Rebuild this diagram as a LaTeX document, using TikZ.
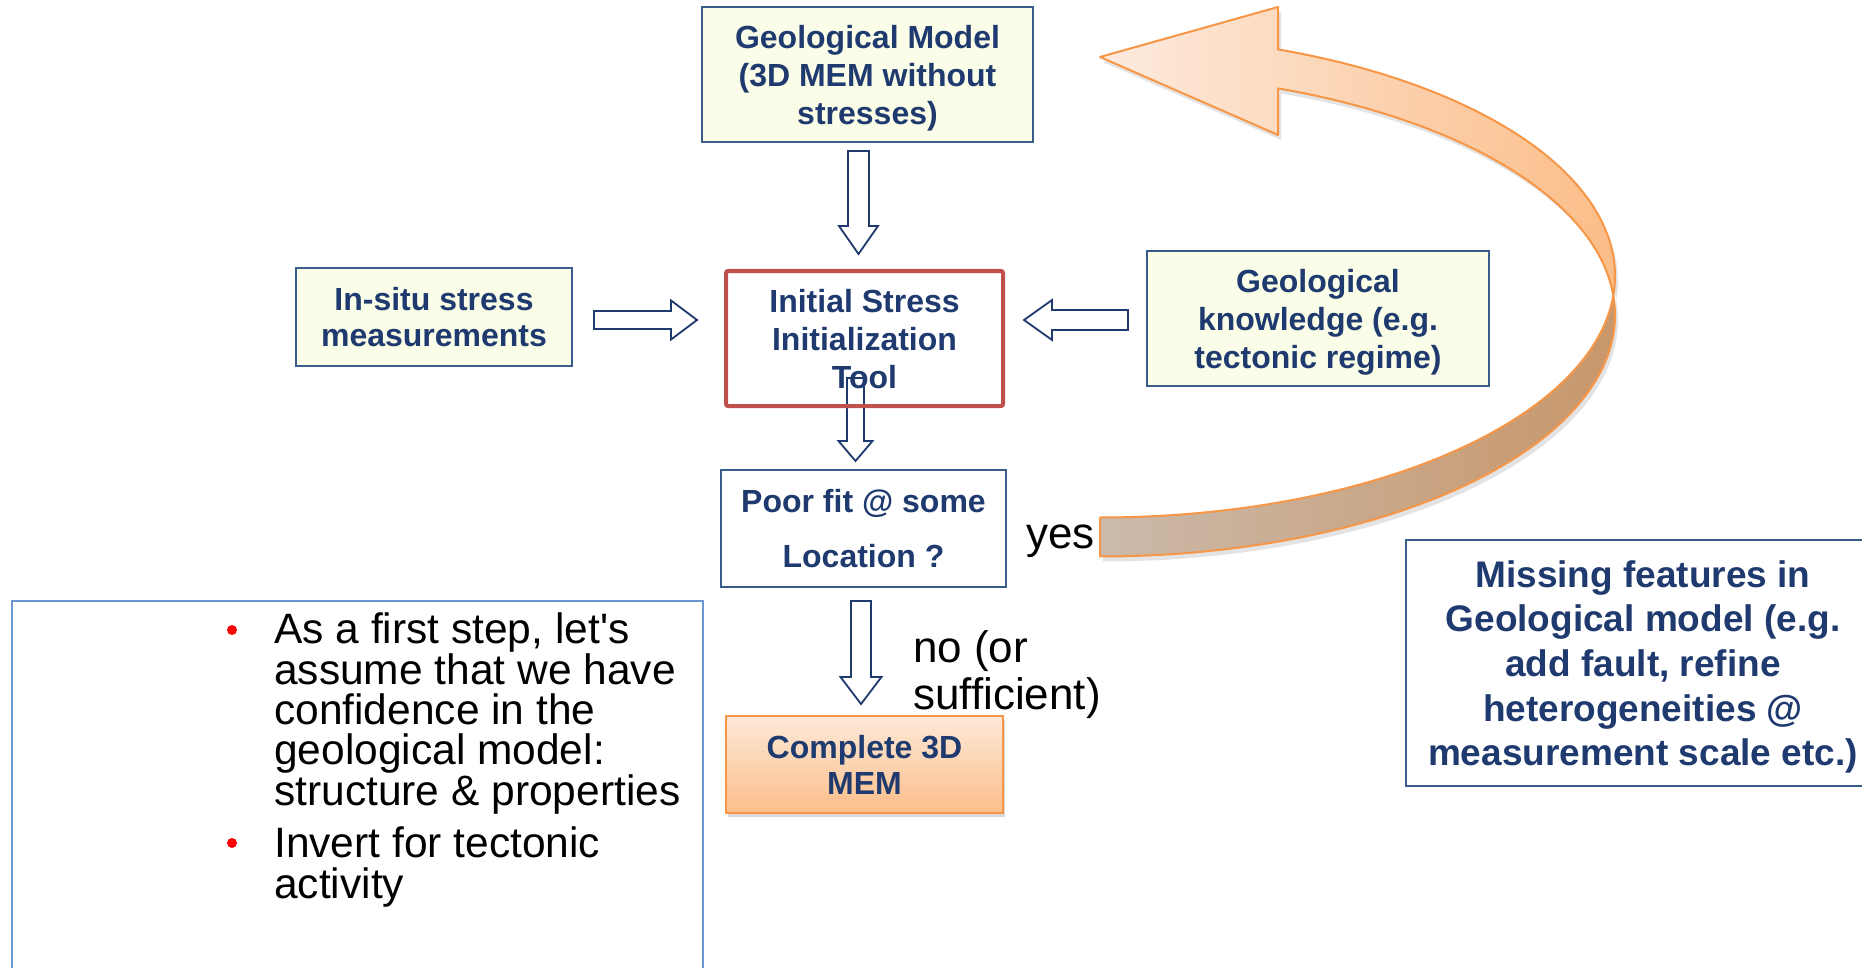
\documentclass[tikz,border=0pt]{standalone}
\usepackage{fontspec}
\setmainfont{Liberation Sans}
\newfontfamily\aposfont{Liberation Sans}
\usetikzlibrary{shadows,calc}
\definecolor{navy}{HTML}{1F3A6E}
\definecolor{boxline}{HTML}{385D8A}
\definecolor{boxfill}{HTML}{FAFDE8}
\definecolor{istred}{HTML}{C0504D}
\definecolor{noteline}{HTML}{6C96CE}
\definecolor{orangeline}{HTML}{F79646}
\definecolor{upL}{HTML}{FDEBDF}
\definecolor{upR}{HTML}{FBBD88}
\definecolor{loL}{HTML}{CBBAAB}
\definecolor{loR}{HTML}{C8976A}
\definecolor{cTop}{HTML}{FDE9D8}
\definecolor{cBot}{HTML}{FBBE8A}
\definecolor{bulletred}{HTML}{FF0000}
\newcommand\varrow[6]{% x ytop yhead ytip bodyhalf headhalf
  \draw[blockarrow] ({#1-#5},#2) -- ({#1+#5},#2) -- ({#1+#5},#3) -- ({#1+#6},#3) -- (#1,#4) -- ({#1-#6},#3) -- ({#1-#5},#3) -- cycle;}
\newcommand\harrow[6]{% y xtail xhead xtip bodyhalf headhalf
  \draw[blockarrow] (#2,{#1-#5}) -- (#3,{#1-#5}) -- (#3,{#1-#6}) -- (#4,#1) -- (#3,{#1+#6}) -- (#3,{#1+#5}) -- (#2,{#1+#5}) -- cycle;}
% ellipse parameters of the curved feedback arrow
\def\ecx{1100}\def\erx{515}\def\ery{241.5}
\def\eca{276}\def\ecb{315}
\begin{document}
\begin{tikzpicture}[x=1pt,y=-1pt,
  box/.style={draw=boxline, line width=2pt, fill=boxfill, inner sep=0pt, text=navy, align=center,
              text depth=0pt, font=\bfseries\fontsize{32}{38}\selectfont},
  blockarrow/.style={draw=navy, line width=1.8pt, fill=white, line join=miter},
  curvearrow/.style={draw=orangeline, line width=2pt, line join=round,
              drop shadow={opacity=0.22, shadow xshift=3pt, shadow yshift=-5pt}},
  plain/.style={inner sep=0pt, text=black, font=\fontsize{44}{47}\selectfont},
  bullet/.style={circle, fill=bulletred, inner sep=0pt, minimum size=10pt},
  bullettext/.style={inner sep=0pt, anchor=base west, align=left, text=black, font=\fontsize{42.5}{40.3}\selectfont}
  ]
\useasboundingbox (0,0) rectangle (1862,968);
\clip (0,0) rectangle (1862,968);
\fill[white] (0,0) rectangle (1862,968);

% top model box
\node[box, minimum width=331pt, minimum height=135pt] (gm) at (867.5,74.5) {Geological Model\\(3D MEM without\\stresses)};

% arrows into / out of the tool
\varrow{858.5}{151}{226}{254}{10.5}{19.5}
\varrow{855.5}{378}{441}{461}{8.5}{17}
\node[box, draw=istred, line width=4pt, fill=none, rounded corners=2pt, minimum width=277pt, minimum height=135pt] (ist) at (864.5,338.5) {Initial Stress\\Initialization\\Tool};

\node[box, minimum width=276pt, minimum height=98pt, font=\bfseries\fontsize{32}{36.5}\selectfont] (insitu) at (434,317) {In-situ stress\\measurements};
\harrow{320}{594}{671}{697}{9}{19.5}

\node[box, minimum width=342pt, minimum height=135pt] (gk) at (1318,318.5) {Geological\\knowledge (e.g.\\tectonic regime)};
\harrow{320}{1128}{1052}{1024}{10}{20}

\node[box, fill=white, font=\bfseries\fontsize{32}{55}\selectfont, minimum width=285pt, minimum height=117pt] (poor) at (863.5,528.5) {Poor fit @ some\\Location ?};

\varrow{861}{601}{677}{704}{10}{20.5}

\node[box, draw=orangeline, top color=cTop, bottom color=cBot,
      drop shadow={opacity=0.3, shadow xshift=2pt, shadow yshift=-4pt},
      font=\bfseries\fontsize{32}{36}\selectfont, minimum width=277pt, minimum height=97pt] (mem) at (864.5,764.5) {Complete 3D\\MEM};

\node[plain, anchor=base west, align=left] (nolbl) at (913,709) {no (or\\sufficient)};
\node[plain, anchor=base west] (yeslbl) at (1026,548) {yes};

% missing features box
\node[box, fill=white, font=\bfseries\fontsize{37}{44.6}\selectfont, minimum width=474pt, minimum height=246pt] (missing) at (1643,663) {Missing features in\\Geological model (e.g.\\add fault, refine\\heterogeneities @\\measurement scale etc.)};

% notes box
\node[draw=noteline, line width=2.5pt, fill=white, inner sep=0pt, minimum width=691pt, minimum height=420pt] (notes) at (357.5,811) {};
\node[bullet] (d1) at (232,630) {};
\node[bullet] (d2) at (232,843) {};
\node[bullettext] (b1) at (274,805) {As a first step, let{\aposfont'}s\\assume that we have\\confidence in the\\geological model:\\structure \& properties};
\node[bullettext] (b2) at (274,898) {Invert for tectonic\\activity};

% curved feedback arrow: lower (back) face
\draw[curvearrow, left color=loL, right color=loR]
  plot[domain=-4.63:90, samples=60, smooth] ({\ecx+\erx*cos(\x)}, {\ecb+\ery*sin(\x)})
  -- plot[domain=90:4.63, samples=60, smooth] ({\ecx+\erx*cos(\x)}, {\eca+\ery*sin(\x)})
  -- cycle;
% upper (front) face with head
\draw[curvearrow, left color=upL, right color=upR]
  plot[domain=-69.78:4.63, samples=60, smooth] ({\ecx+\erx*cos(\x)}, {\eca+\ery*sin(\x)})
  -- plot[domain=-4.63:-69.78, samples=60, smooth] ({\ecx+\erx*cos(\x)}, {\ecb+\ery*sin(\x)})
  -- (1278,135) -- (1100,57) -- (1278,7) -- cycle;
\end{tikzpicture}
\end{document}
